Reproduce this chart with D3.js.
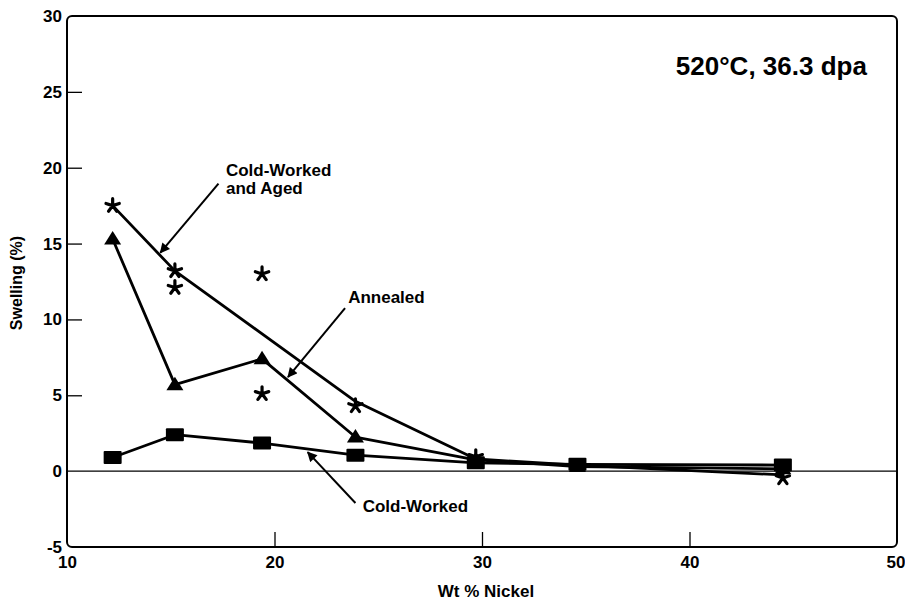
<!DOCTYPE html>
<html>
<head>
<meta charset="utf-8">
<script src="https://cdn.jsdelivr.net/npm/d3@7"></script>
<style>
  body { margin: 0; background: #fff; }
  text { font-family: "Liberation Sans", Arial, sans-serif; font-weight: bold; fill: #000; }
</style>
</head>
<body>
<div id="chart"></div>
<script>
  /**
   * DATA
   * */
  const nickel = [12.2, 15.2, 19.4, 23.9, 29.7, 34.6, 44.5];
  const coldWorked = [0.9, 2.4, 1.85, 1.05, 0.55, 0.45, 0.4];
  const annealed = [15.3, 5.7, 7.4, 2.25, 0.75, 0.3, 0.15];

  // cold-worked and aged: trend line + individual points
  const cwaLineX = [12.2, 15.2, 23.9, 29.7, 34.6, 44.5];
  const cwaLineY = [17.5, 13.2, 4.6, 0.8, 0.4, -0.25];
  const cwaPtsX = [12.2, 15.2, 15.2, 19.4, 19.4, 23.9, 29.7, 44.5];
  const cwaPtsY = [17.5, 13.2, 12.1, 13.0, 5.1, 4.3, 0.95, -0.45];

  const xTicks = [10, 20, 30, 40, 50];
  const yTicks = [-5, 0, 5, 10, 15, 20, 25, 30];

  // annotations, in data units: text position, arrow start and arrow tip
  const notes = [
    { lines: ["Cold-Worked", "and Aged"], tx: 17.66, ty: 19.45, x1: 17.3, y1: 18.95, x2: 14.5, y2: 14.4 },
    { lines: ["Annealed"], tx: 23.55, ty: 11.05, x1: 23.4, y1: 10.75, x2: 20.65, y2: 6.2 },
    { lines: ["Cold-Worked"], tx: 24.25, ty: -2.7, x1: 23.9, y1: -2.1, x2: 21.6, y2: 1.25 }
  ];
  const title = "520\u00B0C, 36.3 dpa";

  /**
   * CONSTANTS
   * */
  const width = 905, height = 601;
  const margin = { top: 16, bottom: 54, left: 67, right: 8 };

  const svg = d3.select("#chart")
    .append("svg")
    .attr("width", width)
    .attr("height", height);

  svg.append("defs").append("marker")
    .attr("id", "head")
    .attr("viewBox", "0 0 10 10")
    .attr("refX", 9).attr("refY", 5)
    .attr("markerWidth", 6).attr("markerHeight", 5)
    .attr("markerUnits", "strokeWidth")
    .attr("orient", "auto")
    .append("path")
    .attr("d", "M0,0 L10,5 L0,10 Z")
    .attr("fill", "#000");

  const xScale = d3.scaleLinear()
    .domain([10, 50])
    .range([margin.left, width - margin.right]);

  const yScale = d3.scaleLinear()
    .domain([-5, 30])
    .range([height - margin.bottom, margin.top]);

  // axes (ticks point inward)
  const xAxis = d3.axisBottom(xScale)
    .tickValues(xTicks)
    .tickFormat(d => String(d))
    .tickSizeInner(-15).tickSizeOuter(0).tickPadding(9);
  const yAxis = d3.axisLeft(yScale)
    .tickValues(yTicks)
    .tickFormat(d => String(d))
    .tickSizeInner(-15).tickSizeOuter(0).tickPadding(5);

  const gx = svg.append("g")
    .attr("transform", `translate(0, ${yScale(-5)})`)
    .call(xAxis);
  const gy = svg.append("g")
    .attr("transform", `translate(${xScale(10)}, 0)`)
    .call(yAxis);

  [gx, gy].forEach(g => {
    g.select(".domain").remove();
    g.selectAll("text").attr("font-size", 17).attr("font-family", null);
    g.selectAll("line").attr("stroke", "#000").attr("stroke-width", 1.3);
  });
  // hide ticks sitting on the frame or the zero line
  gx.selectAll(".tick").filter(d => d === 10 || d === 50).select("line").remove();
  gy.selectAll(".tick").filter(d => d === -5 || d === 30 || d === 0).select("line").remove();
  // last label sits at the page edge
  gx.selectAll(".tick").filter(d => d === 50).select("text").attr("text-anchor", "end").attr("dx", 8);

  // frame
  svg.append("rect")
    .attr("x", xScale(10)).attr("y", yScale(30))
    .attr("width", xScale(50) - xScale(10))
    .attr("height", yScale(-5) - yScale(30))
    .attr("rx", 5)
    .attr("fill", "none")
    .attr("stroke", "#000")
    .attr("stroke-width", 2);

  // zero line
  svg.append("line")
    .attr("x1", xScale(10)).attr("x2", xScale(50))
    .attr("y1", yScale(0)).attr("y2", yScale(0))
    .attr("stroke", "#000").attr("stroke-width", 1.3);

  // axis titles
  svg.append("text")
    .attr("x", xScale(30) + 4).attr("y", 597)
    .attr("text-anchor", "middle")
    .attr("font-size", 17)
    .text("Wt % Nickel");

  svg.append("text")
    .attr("transform", `translate(22, ${yScale(12.4)}) rotate(-90)`)
    .attr("text-anchor", "middle")
    .attr("font-size", 16)
    .text("Swelling (%)");

  svg.append("text")
    .attr("x", xScale(48.55)).attr("y", yScale(26.1))
    .attr("text-anchor", "end")
    .attr("font-size", 26)
    .text(title);

  /**
   * SERIES
   * */
  const lineFunc = d3.line()
    .x(d => xScale(d[0]))
    .y(d => yScale(d[1]));

  const series = [
    d3.zip(nickel, coldWorked),
    d3.zip(nickel, annealed),
    d3.zip(cwaLineX, cwaLineY)
  ];

  svg.selectAll("path.trend")
    .data(series)
    .join("path")
    .attr("class", "trend")
    .attr("d", lineFunc)
    .attr("fill", "none")
    .attr("stroke", "#000")
    .attr("stroke-width", 2.8)
    .attr("stroke-linejoin", "round");

  // squares
  svg.selectAll("rect.sq")
    .data(d3.zip(nickel, coldWorked))
    .join("rect")
    .attr("class", "sq")
    .attr("x", d => xScale(d[0]) - 9)
    .attr("y", d => yScale(d[1]) - 6.5)
    .attr("width", 18).attr("height", 13)
    .attr("rx", 1)
    .attr("fill", "#000");

  // triangles
  svg.selectAll("path.tri")
    .data(d3.zip(nickel, annealed))
    .join("path")
    .attr("class", "tri")
    .attr("transform", d => `translate(${xScale(d[0])}, ${yScale(d[1])})`)
    .attr("d", "M0,-8 L8.5,5.5 L-8.5,5.5 Z")
    .attr("fill", "#000");

  // asterisks
  const ast = d3.range(5).map(i => {
    const a = -Math.PI / 2 + i * 2 * Math.PI / 5;
    return `M0,0 L${(7 * Math.cos(a)).toFixed(2)},${(7 * Math.sin(a)).toFixed(2)}`;
  }).join(" ");

  svg.selectAll("path.star")
    .data(d3.zip(cwaPtsX, cwaPtsY))
    .join("path")
    .attr("class", "star")
    .attr("transform", d => `translate(${xScale(d[0])}, ${yScale(d[1])})`)
    .attr("d", ast)
    .attr("fill", "none")
    .attr("stroke", "#000")
    .attr("stroke-width", 3.2)
    .attr("stroke-linecap", "round");

  /**
   * ANNOTATIONS
   * */
  const note = svg.selectAll("g.note")
    .data(notes)
    .join("g")
    .attr("class", "note");

  note.append("line")
    .attr("x1", d => xScale(d.x1)).attr("y1", d => yScale(d.y1))
    .attr("x2", d => xScale(d.x2)).attr("y2", d => yScale(d.y2))
    .attr("stroke", "#000")
    .attr("stroke-width", 2)
    .attr("marker-end", "url(#head)");

  note.append("text")
    .attr("x", d => xScale(d.tx))
    .attr("y", d => yScale(d.ty))
    .attr("font-size", 17)
    .selectAll("tspan")
    .data(d => d.lines.map(l => ({ l, x: xScale(d.tx) })))
    .join("tspan")
    .attr("x", d => d.x)
    .attr("dy", (d, i) => i ? 18 : 0)
    .text(d => d.l);
</script>
</body>
</html>
